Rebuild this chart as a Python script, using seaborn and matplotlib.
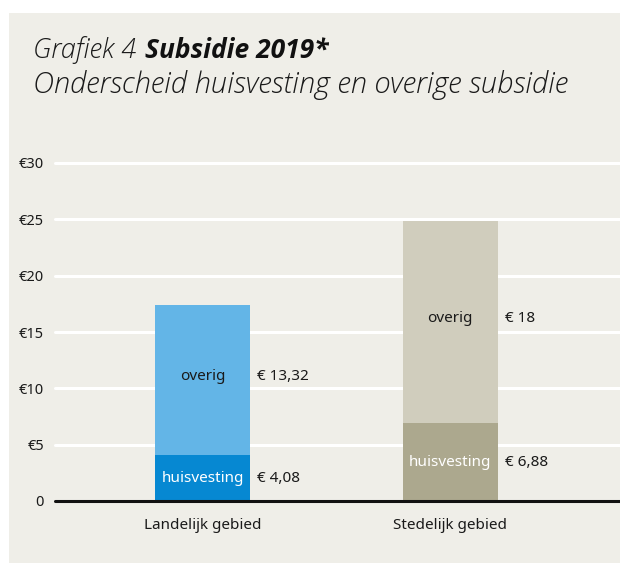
import matplotlib
matplotlib.use("Agg")
import matplotlib.pyplot as plt
import seaborn as sns
import pandas as pd
from matplotlib.patches import Rectangle

categories = ["Landelijk gebied", "Stedelijk gebied"]
huisvesting = [4.08, 6.88]
overig = [13.32, 18.0]
huis_labels = ["€ 4,08", "€ 6,88"]
overig_labels = ["€ 13,32", "€ 18"]
yticks = [0, 5, 10, 15, 20, 25, 30]
ytick_labels = ["0", "€5", "€10", "€15", "€20", "€25", "€30"]

overig_colors = ["#63b5e7", "#d0cdbd"]
huis_colors = ["#0688d2", "#aca88e"]
bg = "#efeee8"

sns.set_theme(style="white")
plt.rcParams["font.family"] = ["Noto Sans", "DejaVu Sans"]

W, H = 620, 563
fig = plt.figure(figsize=(W / 100, H / 100), dpi=100)
fig.patch.set_facecolor("white")
fig.patches.append(Rectangle((9 / W, -0.05), 1.1, 1.05 - 13 / H, transform=fig.transFigure,
                             facecolor=bg, edgecolor="none", zorder=-10))

ax_left, ax_right = 55, 620
y0px, y30px = 501, 163
ax = fig.add_axes([ax_left / W, 1 - y0px / H, (ax_right - ax_left) / W, (y0px - y30px) / H])
ax.set_facecolor(bg)
ax.patch.set_alpha(0)

df = pd.DataFrame({"cat": categories, "huis": huisvesting, "overig": overig})
df["total"] = df["huis"] + df["overig"]

bw = 95 / 247.7
sns.barplot(data=df, x="cat", y="total", hue="cat", palette=overig_colors, width=bw,
            dodge=False, legend=False, ax=ax, saturation=1, zorder=3)
sns.barplot(data=df, x="cat", y="huis", hue="cat", palette=huis_colors, width=bw,
            dodge=False, legend=False, ax=ax, saturation=1, zorder=3)
for p in ax.patches:
    p.set_edgecolor("none")
    p.set_zorder(3)

ax.set_xlim(-0.5955, 1.6855)
ax.set_ylim(0, 30)
ax.set_yticks(yticks)
ax.set_yticklabels(ytick_labels, fontsize=10.5, color="#1a1a1a")
ax.set_xticks([0, 1])
ax.set_xticklabels(categories, fontsize=11, color="#1a1a1a")
ax.tick_params(axis="both", length=0)
ax.tick_params(axis="y", pad=8)
ax.tick_params(axis="x", pad=12)
ax.set_xlabel("")
ax.set_ylabel("")
for s in ax.spines.values():
    s.set_visible(False)
for t in yticks[1:]:
    ax.axhline(t, color="white", lw=2.2, zorder=1, clip_on=False)
ax.axhline(0, color="#111111", lw=2.2, zorder=5, clip_on=False)

for i in range(len(categories)):
    h = huisvesting[i]
    o = overig[i]
    ax.text(i, h / 2, "huisvesting", ha="center", va="center", fontsize=11, color="white", zorder=6)
    ax.text(i, h + o / 2 + 0.3, "overig", ha="center", va="center", fontsize=11, color="#1a1a1a", zorder=6)
    ax.text(i + bw / 2 + 0.03, h / 2, huis_labels[i], ha="left", va="center", fontsize=11, color="#1a1a1a", zorder=6)
    ax.text(i + bw / 2 + 0.03, h + o / 2 + 0.3, overig_labels[i], ha="left", va="center", fontsize=11, color="#1a1a1a", zorder=6)

tfam = ["Open Sans", "DejaVu Sans"]
fig.text(33 / W, 1 - 58 / H, "Grafiek 4", fontsize=19.5, style="italic", fontweight=300,
         family=tfam, color="#1a1a1a", ha="left", va="baseline")
fig.text(145 / W, 1 - 58 / H, "Subsidie 2019*", fontsize=19, style="italic", fontweight="bold",
         family=tfam, color="#111111", ha="left", va="baseline")
fig.text(33 / W, 1 - 93 / H, "Onderscheid huisvesting en overige subsidie", fontsize=21,
         style="italic", fontweight=300, family=tfam, color="#1a1a1a", ha="left", va="baseline")

fig.savefig("out.png", dpi=100, facecolor="white")
